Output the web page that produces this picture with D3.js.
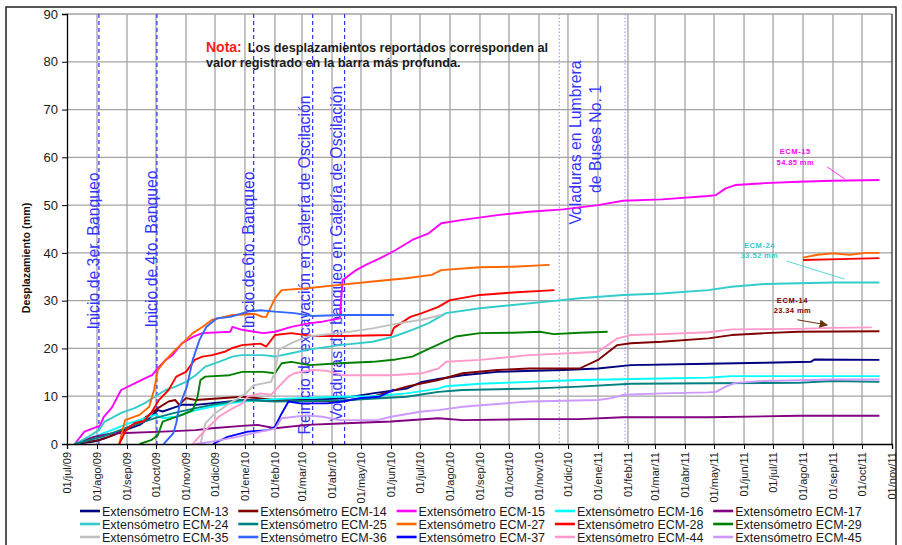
<!DOCTYPE html>
<html><head><meta charset="utf-8">
<script src="https://cdn.jsdelivr.net/npm/d3@7"></script>
<style>
body{margin:0;background:#fff}
svg{display:block;font-family:"Liberation Sans",Arial,sans-serif}
</style>
</head><body><svg id="c" width="902" height="545"></svg>
<script>
// ---------------- DATA ----------------
const monthNames = ["ene","feb","mar","abr","may","jun","jul","ago","sep","oct","nov","dic"];
const yTicks = [0,10,20,30,40,50,60,70,80,90];

const seriesNames = ["Extensómetro ECM-13","Extensómetro ECM-14","Extensómetro ECM-15","Extensómetro ECM-16","Extensómetro ECM-17",
  "Extensómetro ECM-24","Extensómetro ECM-25","Extensómetro ECM-27","Extensómetro ECM-28","Extensómetro ECM-29",
  "Extensómetro ECM-35","Extensómetro ECM-36","Extensómetro ECM-37","Extensómetro ECM-44","Extensómetro ECM-45"];
const seriesColors = ["#000080","#800000","#ff00ff","#00ffff","#800080",
  "#33cccc","#008080","#ff6600","#ff0000","#008000",
  "#c0c0c0","#3366ff","#0000ff","#ff99cc","#cc99ff"];

const ecm13 = [["2009-07-09",0],["2009-07-29",0.5],["2009-08-09",1.2],["2009-08-26",2.6],["2009-09-14",4],["2009-09-24",5.4],["2009-10-03",7.1],["2009-10-08",6.8],["2009-10-18",7.5],["2009-10-28",8.2],["2009-11-11",8.2],["2009-12-16",8.9],["2009-12-29",9.2],["2010-02-27",9.2],["2010-04-09",9.5],["2010-05-13",10.6],["2010-06-17",11.6],["2010-07-03",13],["2010-07-20",13.6],["2010-08-14",14.4],["2010-09-19",15.1],["2010-11-26",15.5],["2011-01-01",15.8],["2011-02-04",16.5],["2011-04-25",16.8],["2011-06-23",17],["2011-08-09",17.2],["2011-08-13",17.7],["2011-10-19",17.6]];
const ecm14 = [["2009-07-09",0],["2009-07-23",0.5],["2009-08-03",0.8],["2009-08-19",1.9],["2009-09-03",3.6],["2009-09-14",4.7],["2009-09-24",6.1],["2009-10-03",7.5],["2009-10-14",8.9],["2009-10-21",9.2],["2009-10-25",8.2],["2009-11-01",9.6],["2009-11-11",9.2],["2009-12-29",9.9],["2010-01-14",9.6],["2010-02-01",9.2],["2010-04-09",8.9],["2010-05-13",9.9],["2010-06-17",12],["2010-07-20",13.4],["2010-08-14",14.8],["2010-09-19",15.5],["2010-10-22",15.8],["2010-12-13",15.8],["2011-01-01",17.6],["2011-01-21",20.7],["2011-02-04",21.1],["2011-03-08",21.4],["2011-04-25",22.1],["2011-05-19",22.8],["2011-06-23",23.2],["2011-07-27",23.5],["2011-10-19",23.6]];
const ecm15 = [["2009-07-09",0],["2009-07-19",2.6],["2009-08-01",3.6],["2009-08-04",3.8],["2009-08-08",5.7],["2009-08-16",7.5],["2009-08-26",11.3],["2009-09-20",13.8],["2009-09-27",14.4],["2009-10-03",15.9],["2009-10-11",17.6],["2009-10-18",18.6],["2009-10-28",21.1],["2009-11-08",22.4],["2009-11-18",23.2],["2009-12-17",23.5],["2009-12-19",24.5],["2009-12-29",23.9],["2010-01-20",23.2],["2010-02-01",23.5],["2010-02-18",24.5],["2010-03-09",25.3],["2010-03-22",25.6],["2010-04-09",26.3],["2010-04-12",34.3],["2010-04-26",36.4],["2010-05-06",37.5],["2010-05-22",39],["2010-06-06",40.6],["2010-06-23",42.7],["2010-07-10",44.1],["2010-07-23",46.2],["2010-08-14",46.9],["2010-09-19",47.9],["2010-10-22",48.6],["2010-11-26",49.1],["2011-01-01",50],["2011-01-27",50.9],["2011-03-08",51.2],["2011-04-25",51.9],["2011-05-03",52.1],["2011-05-13",53.5],["2011-05-23",54.2],["2011-06-23",54.6],["2011-07-27",54.9],["2011-08-31",55.1],["2011-10-19",55.25]];
const ecm16 = [["2009-07-09",0],["2009-07-29",1.5],["2009-08-16",2.9],["2009-09-03",4.3],["2009-09-20",5.4],["2009-09-30",6.1],["2009-10-08",5.4],["2009-10-21",5.7],["2009-11-11",7.1],["2009-11-28",7.8],["2009-12-16",8.5],["2009-12-29",8.9],["2010-02-01",9.4],["2010-04-09",9.9],["2010-05-13",10],["2010-06-17",10.6],["2010-07-20",11.6],["2010-07-28",12.1],["2010-09-01",12.6],["2010-10-22",13],["2010-12-13",13.4],["2011-03-08",13.7],["2011-04-25",13.9],["2011-05-19",14.2],["2011-10-19",14.2]];
const ecm17 = [["2009-07-09",0],["2009-07-29",1.5],["2009-08-16",2.2],["2009-10-08",2.6],["2009-11-11",2.9],["2009-11-28",3.3],["2009-12-29",3.8],["2010-01-14",4],["2010-02-01",3.3],["2010-03-06",4],["2010-04-09",4.3],["2010-06-01",4.7],["2010-07-20",5.4],["2010-08-14",5],["2010-10-22",5.2],["2010-12-13",5.2],["2011-01-27",5.6],["2011-04-25",5.6],["2011-07-27",5.9],["2011-10-19",5.9]];
const ecm24 = [["2009-07-09",0],["2009-07-23",1.5],["2009-08-03",2.9],["2009-08-09",4.7],["2009-08-16",5.4],["2009-08-26",6.5],["2009-09-09",7.5],["2009-09-20",8.6],["2009-10-03",10.3],["2009-10-11",11.3],["2009-10-21",12],["2009-11-01",13],["2009-11-11",14.4],["2009-11-21",16.2],["2009-12-05",17.2],["2009-12-19",18.3],["2009-12-29",18.6],["2010-01-20",18.6],["2010-02-01",18.3],["2010-02-18",19],["2010-03-06",19.7],["2010-04-09",20.7],["2010-05-13",21.4],["2010-06-04",22.5],["2010-06-23",23.9],["2010-07-10",25.3],["2010-07-28",27.4],["2010-09-01",28.4],["2010-10-05",29.1],["2010-11-09",29.8],["2010-12-13",30.5],["2011-01-27",31.2],["2011-03-08",31.5],["2011-04-25",32.2],["2011-05-19",32.9],["2011-06-23",33.5],["2011-08-31",33.8],["2011-10-19",33.8]];
const ecm25 = [["2009-07-09",0],["2009-08-06",1.5],["2009-09-03",3.6],["2009-09-30",5.4],["2009-10-18",6.4],["2009-11-11",7.5],["2009-11-28",8.2],["2009-12-29",9.2],["2010-02-01",8.9],["2010-04-09",9.1],["2010-06-17",9.9],["2010-07-20",10.9],["2010-08-14",11.3],["2010-10-22",11.6],["2010-12-13",12],["2011-02-04",12.6],["2011-04-25",12.7],["2011-07-27",12.8],["2011-08-31",13.2],["2011-10-19",13]];
const ecm27 = [["2009-08-24",0],["2009-08-30",5],["2009-09-14",6.1],["2009-09-24",7.8],["2009-09-29",11.3],["2009-10-03",15.5],["2009-10-11",17.6],["2009-10-21",19.7],["2009-11-01",21.8],["2009-11-08",23.2],["2009-11-18",24.5],["2009-11-28",26],["2009-12-11",26.6],["2009-12-19",27],["2010-01-12",27.2],["2010-01-19",26.6],["2010-01-23",26.6],["2010-02-01",30.5],["2010-02-08",32.2],["2010-03-06",32.6],["2010-04-09",33.3],["2010-05-13",34],["2010-06-17",34.7],["2010-07-13",35.4],["2010-07-23",36.4],["2010-09-01",37],["2010-10-05",37.1],["2010-11-12",37.5],["2010-11-13",null],["2011-07-31",null],["2011-08-01",39],["2011-08-16",39.6],["2011-09-01",39.9],["2011-09-18",39.6],["2011-10-06",40],["2011-10-19",40]];
const ecm28 = [["2009-08-24",0],["2009-08-31",2.9],["2009-09-09",4.4],["2009-09-18",4.7],["2009-09-26",6.5],["2009-10-04",9.2],["2009-10-14",11.3],["2009-10-22",14.1],["2009-11-01",15.1],["2009-11-10",17.6],["2009-11-18",18.3],["2009-11-28",18.6],["2009-12-11",19.3],["2009-12-19",20.1],["2009-12-29",20.7],["2010-01-17",21],["2010-01-23",20.4],["2010-02-01",22.8],["2010-02-18",23.2],["2010-03-12",22.6],["2010-04-12",22.6],["2010-06-01",22.8],["2010-06-04",24.3],["2010-06-21",26.6],["2010-07-03",27.4],["2010-07-20",28.7],["2010-08-01",30.1],["2010-09-01",31.2],["2010-10-05",31.7],["2010-11-17",32.2],["2010-11-18",null],["2011-07-31",null],["2011-08-01",38.5],["2011-09-08",38.7],["2011-10-19",38.9]];
const ecm29 = [["2009-09-14",0],["2009-09-26",0.8],["2009-10-03",1.9],["2009-10-08",4.7],["2009-10-18",5.4],["2009-10-28",6.1],["2009-11-08",7.1],["2009-11-13",9.9],["2009-11-16",13.4],["2009-11-21",14.1],["2009-12-16",14.4],["2009-12-29",15.1],["2010-01-20",15.1],["2010-02-01",14.8],["2010-02-08",16.9],["2010-02-18",17.2],["2010-03-09",16.5],["2010-04-09",16.9],["2010-05-13",17.2],["2010-06-06",17.7],["2010-06-23",18.3],["2010-07-10",19.9],["2010-08-07",22.5],["2010-09-01",23.2],["2010-10-05",23.3],["2010-11-02",23.5],["2010-11-16",23],["2010-12-13",23.3],["2011-01-11",23.5]];
const ecm35 = [["2009-11-16",0],["2009-11-21",4.3],["2009-12-01",6.4],["2009-12-16",8.5],["2010-01-02",10.6],["2010-01-10",12.3],["2010-01-28",13],["2010-02-01",15.1],["2010-02-05",19.7],["2010-02-18",21.1],["2010-03-06",22.5],["2010-04-09",23.2],["2010-05-13",24.2],["2010-06-10",25.3],["2010-07-03",26],["2010-07-23",27]];
const ecm36 = [["2009-10-09",0],["2009-10-19",2.3],["2009-10-22",4.4],["2009-10-25",7.8],["2009-11-02",12],["2009-11-08",17.6],["2009-11-15",21.8],["2009-11-22",24.5],["2009-12-03",26.3],["2009-12-17",26.6],["2010-01-04",27.7],["2010-01-17",28],["2010-02-01",27.7],["2010-02-21",27.4],["2010-03-12",26.8],["2010-04-12",27],["2010-06-04",27]];
const ecm37 = [["2009-11-29",0],["2009-12-14",1.5],["2010-01-04",2.6],["2010-01-25",2.9],["2010-02-01",3.6],["2010-02-08",6.4],["2010-02-15",8.9],["2010-02-27",8.5],["2010-03-27",8.5],["2010-04-12",8.9],["2010-04-30",9.6],["2010-05-20",9.9],["2010-06-04",11.4]];
const ecm44 = [["2009-11-08",0],["2009-11-18",2.3],["2009-11-28",4.3],["2009-12-05",5.7],["2009-12-16",7.1],["2009-12-29",8.5],["2010-01-04",9.9],["2010-01-17",10.6],["2010-01-28",10.3],["2010-02-05",12],["2010-02-15",14.1],["2010-02-21",14.8],["2010-03-12",15.5],["2010-03-27",15.3],["2010-04-12",14.4],["2010-06-01",14.4],["2010-07-03",14.8],["2010-07-20",15.8],["2010-07-28",17.2],["2010-09-01",17.6],["2010-10-22",18.6],["2010-12-13",19.1],["2011-01-01",19.3],["2011-01-11",20.7],["2011-01-21",22.1],["2011-02-04",22.8],["2011-03-08",23],["2011-04-25",23.4],["2011-05-19",24],["2011-07-27",24.1],["2011-08-31",24.3],["2011-10-11",24.4]];
const ecm45 = [["2009-11-11",0],["2009-11-28",0.5],["2009-12-24",1.5],["2010-01-17",2.6],["2010-02-01",3.2],["2010-02-08",5.4],["2010-03-06",6],["2010-03-22",5.7],["2010-04-09",5],["2010-05-18",5],["2010-06-01",5.7],["2010-07-03",6.8],["2010-07-20",7.1],["2010-08-14",7.8],["2010-10-22",8.9],["2011-01-01",9.2],["2011-01-15",9.6],["2011-01-27",10.3],["2011-03-08",10.6],["2011-04-25",10.8],["2011-05-03",10.9],["2011-05-13",12],["2011-05-23",12.8],["2011-06-23",13.2],["2011-08-31",13.5],["2011-10-19",13.5]];
const seriesValues = [ecm13,ecm14,ecm15,ecm16,ecm17,ecm24,ecm25,ecm27,ecm28,ecm29,ecm35,ecm36,ecm37,ecm44,ecm45];

// event markers
const eventDates  = ["2009-08-03","2009-10-02","2010-01-10","2010-03-12","2010-04-14"];
const eventLabels = ["Inicio de 3er. Banqueo","Inicio de 4to. Banqueo","Inicio de 6to. Banqueo",
  "Reinicio de excavación en Galería de Oscilación","Voladuras de banqueo en Galería de Oscilación"];
const dottedDates = ["2010-11-22","2011-01-29"];
const dottedLabel = ["Voladuras en Lumbrera","de Buses No. 1"];

// ---------------- LAYOUT ----------------
const svg = d3.select("#c");
const parse = d3.timeParse("%Y-%m-%d");
const x = d3.scaleTime().domain([new Date(2009,6,1), new Date(2011,10,1)]).range([67,892]);
const y = d3.scaleLinear().domain([0,90]).range([444,14]);
const months = d3.timeMonth.range(new Date(2009,6,1), new Date(2011,10,2));
const gridCol = "#a3a3a3";

svg.append("rect").attr("width",902).attr("height",545).attr("fill","#fff");

// gridlines
svg.append("g").selectAll("line").data(yTicks.slice(1)).join("line")
  .attr("x1",67).attr("x2",892).attr("y1",d=>y(d)).attr("y2",d=>y(d))
  .attr("stroke",gridCol).attr("stroke-width",1.3);
svg.append("g").selectAll("line").data(months.slice(1)).join("line")
  .attr("x1",d=>x(d)).attr("x2",d=>x(d)).attr("y1",y(90)).attr("y2",y(0))
  .attr("stroke",(d,i,a)=>i===a.length-1?"#333":gridCol).attr("stroke-width",1.3);

// event lines
const evG = svg.append("g");
evG.selectAll("line.ev").data(eventDates).join("line").attr("class","ev")
  .attr("x1",d=>x(parse(d))).attr("x2",d=>x(parse(d))).attr("y1",y(90)).attr("y2",y(0))
  .attr("stroke","#2e2eff").attr("stroke-width",1.2).attr("stroke-dasharray","4,3");
evG.selectAll("line.dt").data(dottedDates).join("line").attr("class","dt")
  .attr("x1",d=>x(parse(d))).attr("x2",d=>x(parse(d))).attr("y1",y(90)).attr("y2",y(0))
  .attr("stroke","#9a9aff").attr("stroke-width",1.1).attr("stroke-dasharray","1.5,2");

const labDx = [0.5,0.3,0.5,-3,-3];
const labYc = [251,249,250,265,253.5];
evG.selectAll("text.ev").data(eventLabels).join("text").attr("class","ev")
  .attr("transform",(d,i)=>`translate(${x(parse(eventDates[i]))+labDx[i]},${labYc[i]}) rotate(-90)`)
  .attr("text-anchor","middle").attr("font-size","15.8px").attr("fill","#3333ff").text(d=>d);
const dotLabX = [581,601], dotLabY=[142.5,139];
evG.selectAll("text.dt").data(dottedLabel).join("text").attr("class","dt")
  .attr("transform",(d,i)=>`translate(${dotLabX[i]},${dotLabY[i]}) rotate(-90)`)
  .attr("text-anchor","middle").attr("font-size","15.8px").attr("fill","#3333ff").text(d=>d);

// series lines
const line = d3.line().defined(d=>d[1]!==null).x(d=>x(parse(d[0]))).y(d=>y(d[1]));
svg.append("g").selectAll("path").data(seriesValues).join("path")
  .attr("d",line).attr("fill","none").attr("stroke",(d,i)=>seriesColors[i])
  .attr("stroke-width",1.9).attr("stroke-linejoin","round");

// axes
const yAxis = d3.axisLeft(y).tickValues(yTicks).tickSize(5).tickPadding(4);
const gy = svg.append("g").attr("transform","translate(67,0)").call(yAxis);
gy.select(".domain").attr("stroke","#000").attr("stroke-width",1.3);
gy.selectAll(".tick line").attr("stroke","#000");
gy.selectAll("text").attr("font-size","13px").attr("fill","#1a1a1a")
  .attr("font-family","'Liberation Sans',Arial,sans-serif");

const fmt = d => "01/" + monthNames[d.getMonth()] + "/" + d3.timeFormat("%y")(d);
const xAxis = d3.axisBottom(x).tickValues(months).tickSize(5).tickFormat(fmt);
const gx = svg.append("g").attr("transform","translate(0,444)").call(xAxis);
gx.select(".domain").attr("stroke","#000").attr("stroke-width",1.3);
gx.selectAll(".tick line").attr("stroke","#000");
gx.selectAll("text").attr("font-size","11px").attr("fill","#1a1a1a")
  .attr("font-family","'Liberation Sans',Arial,sans-serif")
  .attr("transform","rotate(-90)").attr("text-anchor","end")
  .attr("x",-8).attr("y",0).attr("dy","0.35em");

// y axis title
svg.append("text").attr("transform","translate(30,258) rotate(-90)")
  .attr("text-anchor","middle").attr("font-size","10.7px").attr("font-weight","bold")
  .attr("fill","#111").text("Desplazamiento (mm)");

// note
const note = svg.append("text").attr("x",206).attr("y",51.5).attr("font-weight","bold").attr("font-size","12.7px");
note.append("tspan").attr("fill","#ff1a1a").attr("font-size","14px").text("Nota:");
note.append("tspan").attr("fill","#1a1a1a").attr("dx",6).text("Los desplazamientos reportados corresponden al");
svg.append("text").attr("x",206).attr("y",67).attr("font-weight","bold").attr("font-size","12.7px")
  .attr("fill","#1a1a1a").text("valor registrado en la barra más profunda.");

// right-side annotations
const annots = [
  {c:"#ff00ff", d:"2011-07-24", v1:60.7, v2:58.4, t1:"ECM-15", t2:"54.85 mm", l:["2011-08-26",58.0,"2011-09-13",55.5], arrow:false},
  {c:"#33cccc", d:"2011-06-17", v1:41.0, v2:38.9, t1:"ECM-24", t2:"33.52 mm", l:["2011-07-15",38.3,"2011-09-13",34.5], arrow:false},
  {c:"#800000", d:"2011-07-21", v1:29.5, v2:27.4, t1:"ECM-14", t2:"23.34 mm", l:["2011-07-26",26.0,"2011-08-26",24.9], arrow:true}
];
const defs = svg.append("defs");
defs.append("marker").attr("id","arr").attr("viewBox","0 0 10 10").attr("refX",9).attr("refY",5)
  .attr("markerWidth",7).attr("markerHeight",7).attr("orient","auto")
  .append("path").attr("d","M0,0 L10,5 L0,10 z").attr("fill","#6b3410");
annots.forEach(a=>{
  svg.append("text").attr("x",x(parse(a.d))).attr("y",y(a.v1)).attr("text-anchor","middle")
    .attr("font-size","7.5px").attr("font-weight","bold").attr("fill",a.c).attr("letter-spacing","0.6px").text(a.t1);
  svg.append("text").attr("x",x(parse(a.d))).attr("y",y(a.v2)).attr("text-anchor","middle")
    .attr("font-size","7.5px").attr("font-weight","bold").attr("fill",a.c).attr("letter-spacing","0.4px").text(a.t2);
  const ln = svg.append("line").attr("x1",x(parse(a.l[0]))).attr("y1",y(a.l[1]))
    .attr("x2",x(parse(a.l[2]))).attr("y2",y(a.l[3]))
    .attr("stroke",a.arrow?"#6b3410":a.c).attr("stroke-width",a.arrow?1.2:0.8);
  if(a.arrow) ln.attr("marker-end","url(#arr)");
});

// legend
const legX0 = 80, legDX = 158.3, legY0 = 511, legDY = 13;
const leg = svg.append("g").selectAll("g").data(seriesNames).join("g")
  .attr("transform",(d,i)=>`translate(${legX0+(i%5)*legDX},${legY0+Math.floor(i/5)*legDY})`);
leg.append("line").attr("x1",0).attr("x2",20).attr("stroke",(d,i)=>seriesColors[i]).attr("stroke-width",2.6);
leg.append("text").attr("x",22).attr("dy","0.36em").attr("font-size","12.5px").attr("fill","#1a1a1a").text(d=>d);

// outer frame
svg.append("path").attr("d","M6,600 L6,7 L896,7 L896,600").attr("fill","none")
  .attr("stroke","#222").attr("stroke-width",1.5);
</script></body></html>
